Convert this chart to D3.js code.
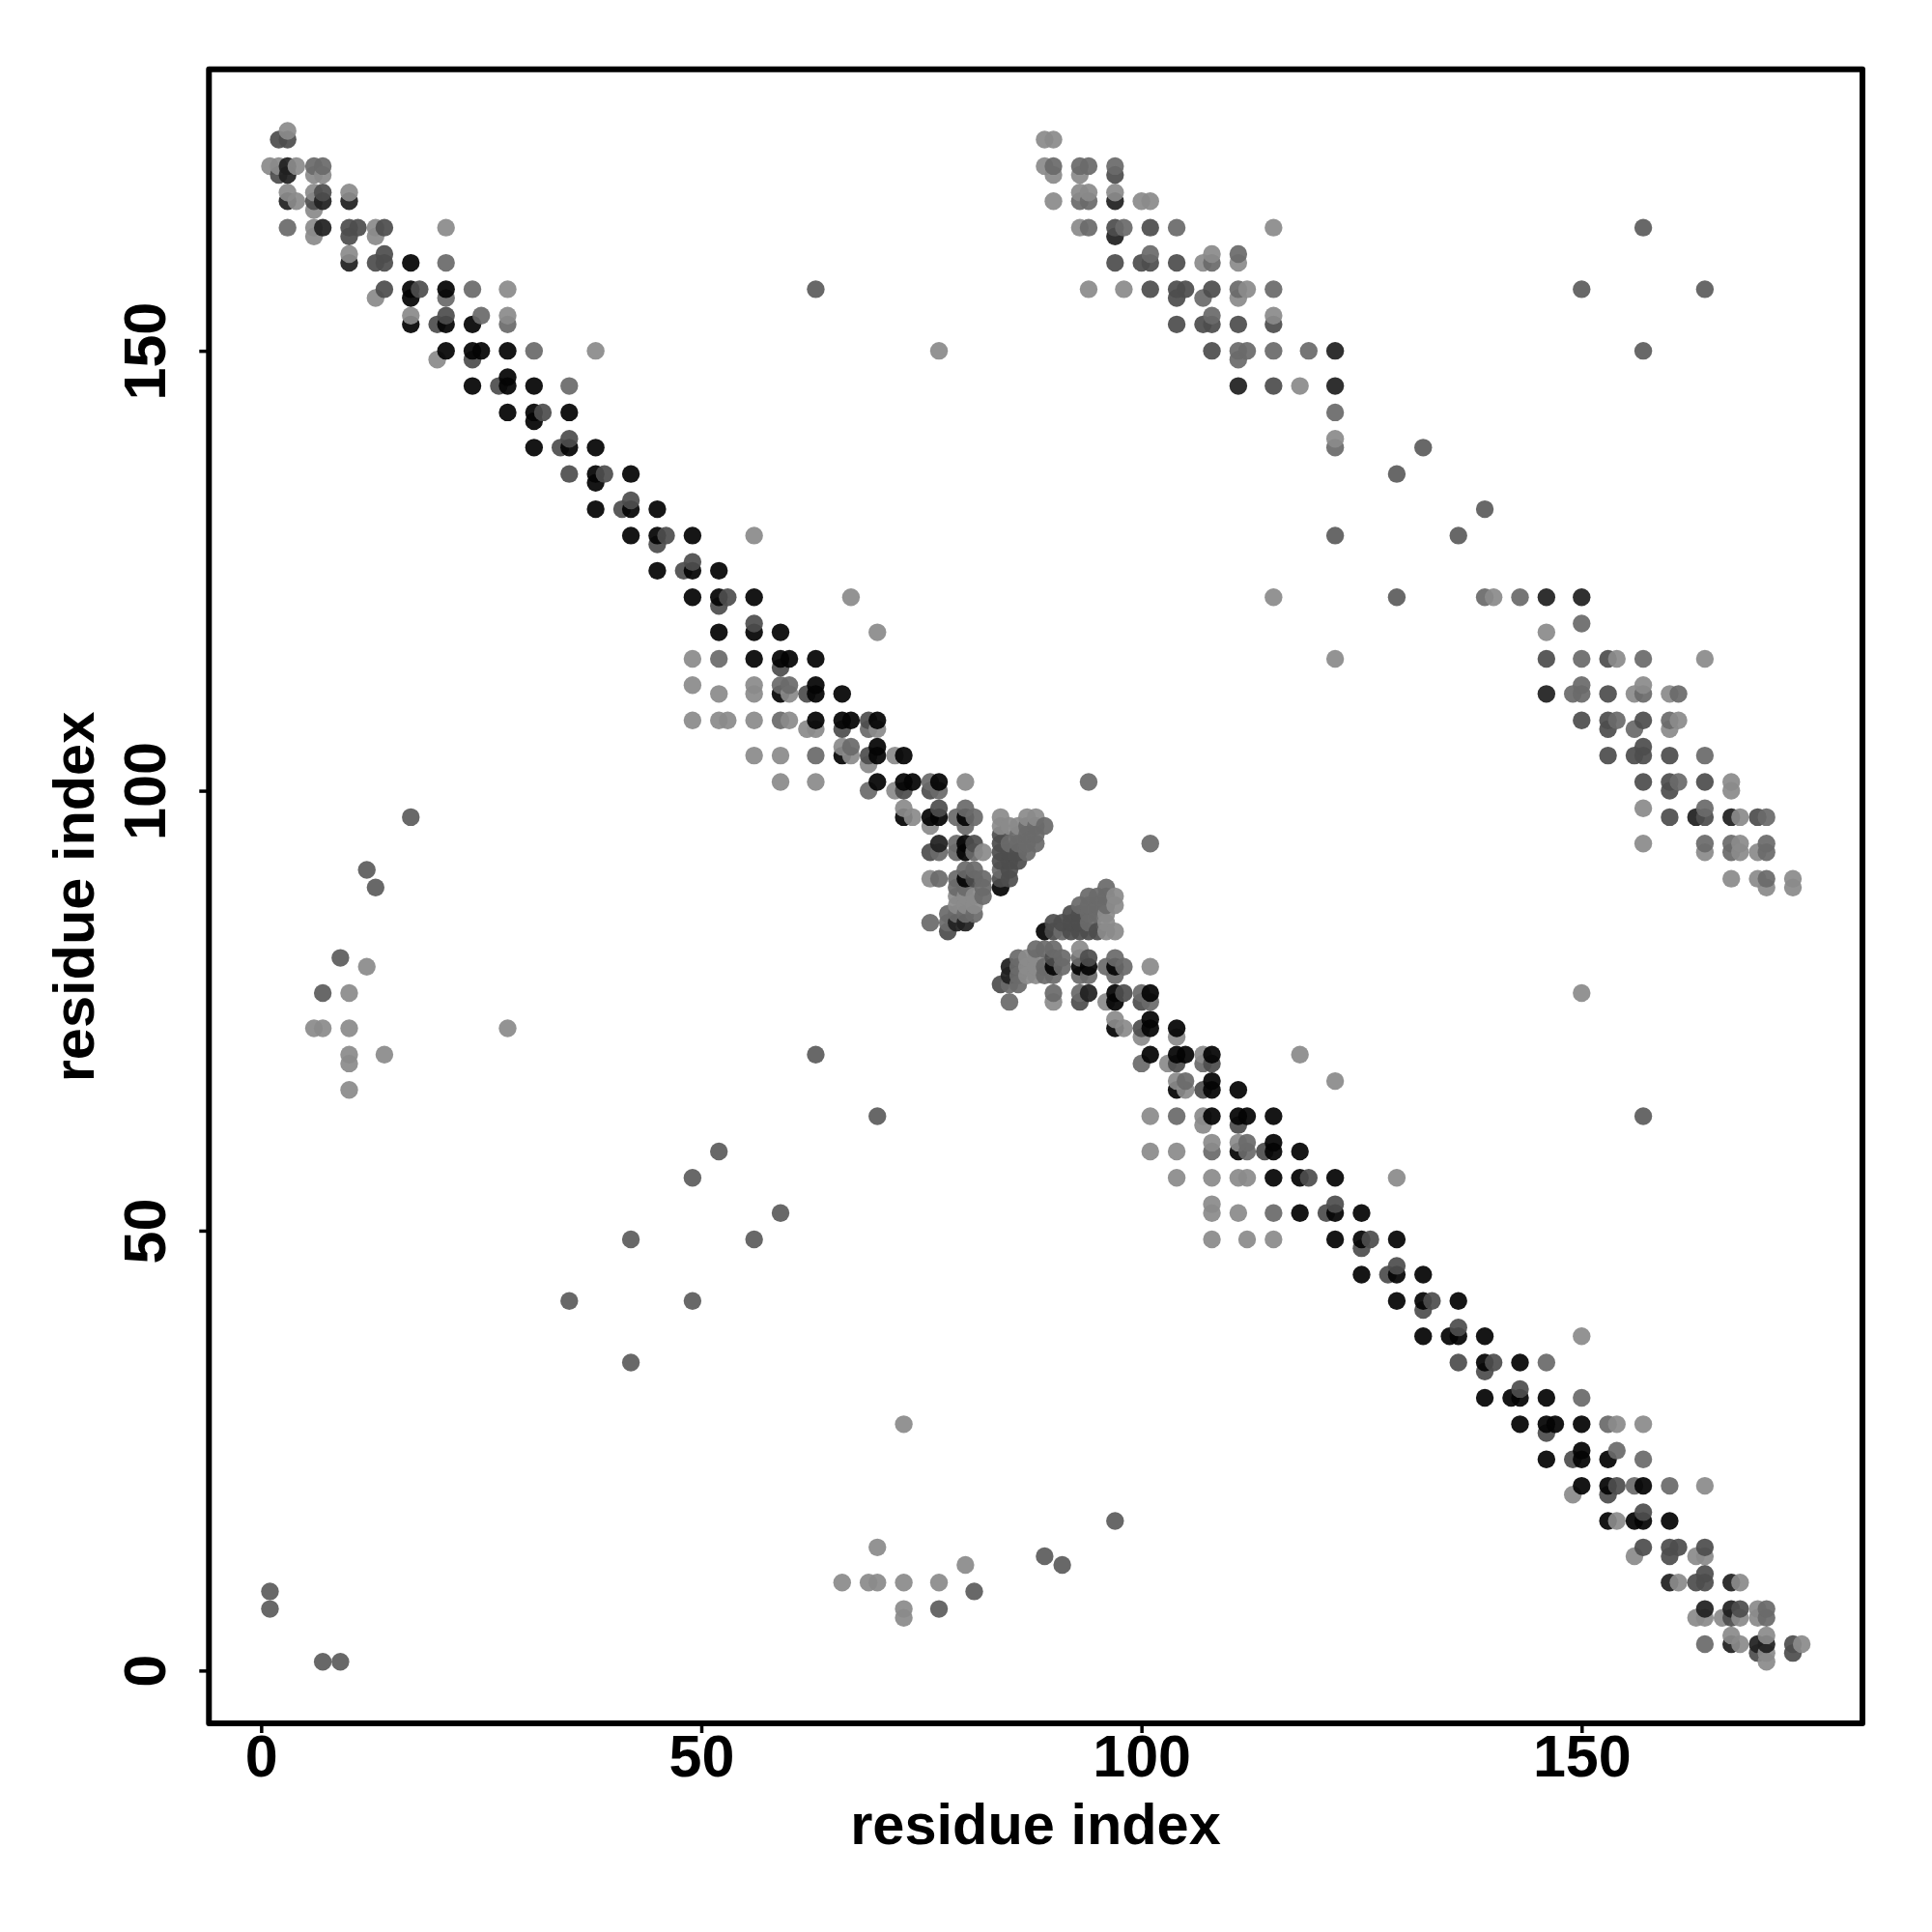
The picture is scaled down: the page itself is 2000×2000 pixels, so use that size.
<!DOCTYPE html>
<html><head><meta charset="utf-8"><style>html,body{margin:0;background:#fff}svg{display:block}text{font-family:"Liberation Sans",Arial,sans-serif;font-weight:bold;fill:#000}</style>
<script src="https://cdn.jsdelivr.net/npm/d3@7/dist/d3.min.js"></script></head><body><script>
const xTicks=[0,50,100,150], yTicks=[0,50,100,150];
const axisLabel="residue index";
// contacts, one half of the symmetric map: [i,j] with i<j
const contactsLight=[[3,175],[1,171],[2,171],[4,171],[6,170],[7,170],[3,168],[6,168],[10,168],[4,167],[6,166],[6,164],[13,164],[21,164],[6,163],[13,163],[10,161],[28,157],[13,156],[17,154],[28,154],[20,149],[38,150],[56,129],[70,118],[67,122],
[49,115],[49,112],[56,112],[52,111],[56,111],[60,111],[49,108],[52,108],[53,108],[56,108],[60,108],[62,107],[63,107],[70,107],[66,105],[56,104],[59,104],[67,104],[72,104],[69,103],[59,101],[63,101],[80,101],[72,100],[73,98],[74,97],[76,96],[82,93],[76,90],[79,88],[80,88],[81,88],[79,87],[80,87],[81,87],[84,97],[87,97],[88,97],[84,96],[85,96],[86,96],
[89,174],[90,174],[89,171],[90,170],[93,170],[93,168],[94,168],[97,168],[90,167],[100,167],[101,167],[93,164],[115,164],[108,161],[107,160],[111,160],[94,157],[98,157],[112,157],[111,156],[115,154],[118,146],[122,140],[115,122],
[10,77],[6,73],[7,73],[10,73],[10,70],[10,69],[14,70],[10,66],[28,73],[12,80],[77,150]];
const contactsMid=[[6,171],[7,171],[3,164],[21,160],[24,157],[21,156],[25,154],[28,153],[31,150],[35,146],[52,115],[59,112],[60,112],[59,108],[69,107],[67,105],[63,104],[69,100],[77,100],[76,101],[80,98],[79,97],[81,97],[80,96],[79,94],[79,93],[77,93],[81,93],[80,91],[81,91],[77,90],[79,90],[82,90],[79,89],[80,89],[82,89],[82,88],[78,86],[79,86],[80,86],[81,86],[76,85],[78,85],[87,93],[84,91],[86,95],[87,95],[88,95],[87,96],[88,96],[89,96],[88,94],[85,94],[86,94],[87,94],[94,101],
[90,171],[93,171],[94,171],[97,171],[93,167],[94,167],[94,164],[98,164],[104,164],[101,161],[111,161],[108,160],[108,154],[107,156],[111,157],[115,157],[115,150],[119,150],[111,150],[112,150],[111,149],[122,143],[122,139]];
const contactsIsolated=[[1,9],[1,7],[17,97],[12,91],[13,89],[9,81],[7,77],[63,70],[52,59],[49,56],[42,49],[35,42],[63,157],[150,157],[157,164],[122,129],[129,136],[132,139]];
const contactsSlate=[[2,174],[3,174],[2,170],[7,168],[6,167],[10,164],[11,164],[14,164],[10,163],[14,161],[13,160],[14,160],[14,157],[18,157],[21,154],[20,153],[24,149],[27,146],[32,143],[35,140],[34,139],[35,136],[39,136],[42,133],[41,132],[46,129],[45,128],[49,126],[48,125],[53,122],[52,121],[56,119],[59,114],[62,111],[69,108],[66,107],[69,104],[73,100],[76,100],[77,98],[76,93],[81,94],[78,84],[84,95],[85,93],[86,93],[84,92],[84,90],[85,90],[81,90],[84,94],[84,93],[85,92],[86,92],[85,91],
[97,170],[97,164],[101,164],[97,160],[100,160],[101,160],[104,160],[101,157],[104,157],[105,157],[108,157],[104,156],[104,153],[107,153],[108,153],[111,153],[115,153],[108,150],[115,146]];
const contactsDark=[[3,171],[3,170],[3,167],[7,167],[10,167],[7,164],[10,160],[77,94],[79,85],[80,85],[97,167],[97,163],[122,150],[111,146],[122,146]];
const contactsBlack=[[17,160],[17,157],[21,157],[17,156],[17,153],[21,153],[24,153],[21,150],[24,150],[25,150],[28,150],[28,147],[24,146],[28,146],[31,146],[28,143],[31,143],[35,143],[31,142],[31,139],[35,139],[38,139],[38,136],[42,136],[38,135],[38,132],[42,132],[45,132],[42,129],[45,129],[49,129],[45,125],[49,125],[52,125],[49,122],[52,122],[56,122],[52,118],[56,118],[59,118],[56,115],[59,115],[60,115],[63,115],[63,112],[59,111],[63,111],[66,111],[63,108],[66,108],[67,108],[70,108],[70,105],[66,104],[70,104],[73,104],[70,101],[73,101],[74,101],[77,101],[73,97],[76,97],[77,97],[80,97],[80,94],[80,93],[80,90],[84,89]];

const levels=[["#8b8b8b",contactsLight],["#6a6a6a",contactsMid],["#5c5c5c",contactsIsolated],["#4d4d4d",contactsSlate],["#202020",contactsDark],["#040404",contactsBlack]];
const x=d3.scaleLinear().domain([-5.93,181.9]).range([216.3,1928]);
const y=d3.scaleLinear().domain([-6,182]).range([1784,71.7]);
const svg=d3.select("body").append("svg").attr("width",2000).attr("height",2000);
const points=[];
levels.forEach(([color,list])=>list.forEach(([i,j])=>{points.push({a:i,b:j,color});points.push({a:j,b:i,color});}));
points.sort((p,q)=>d3.ascending(p.a,q.a)||d3.ascending(p.b,q.b));
svg.append("g").selectAll("circle").data(points).join("circle")
 .attr("cx",d=>x(d.a)).attr("cy",d=>y(d.b)).attr("r",9.2).attr("fill",d=>d.color).attr("fill-opacity",0.93);
svg.append("rect").attr("x",x.range()[0]).attr("y",y.range()[1]).attr("width",x.range()[1]-x.range()[0]).attr("height",y.range()[0]-y.range()[1]).attr("fill","none").attr("stroke","#000").attr("stroke-width",6).attr("stroke-linejoin","round");
const gx=svg.append("g").attr("transform",`translate(0,${y.range()[0]})`).call(d3.axisBottom(x).tickValues(xTicks).tickSize(10).tickPadding(20).tickFormat(d3.format("d")));
const gy=svg.append("g").attr("transform",`translate(${x.range()[0]},0)`).call(d3.axisLeft(y).tickValues(yTicks).tickSize(10).tickFormat(d3.format("d")));
[gx,gy].forEach(g=>{g.select(".domain").remove();g.selectAll(".tick line").attr("stroke","#000").attr("stroke-width",3.5);});
gx.selectAll("text").attr("font-size",61).attr("y",null).attr("dy",null).attr("transform","translate(0,55)").attr("text-anchor","middle").style("font-family",'"Liberation Sans"').style("font-weight","bold");
gy.selectAll("text").attr("font-size",61).attr("x",null).attr("dy",null).attr("transform","translate(-45.5,0) rotate(-90)").attr("text-anchor","middle").style("font-family",'"Liberation Sans"').style("font-weight","bold");
svg.append("text").attr("x",1072).attr("y",1909).attr("text-anchor","middle").attr("font-size",59.5).text(axisLabel);
svg.append("text").attr("transform","translate(97,928.5) rotate(-90)").attr("text-anchor","middle").attr("font-size",59.5).text(axisLabel);
</script></body></html>
